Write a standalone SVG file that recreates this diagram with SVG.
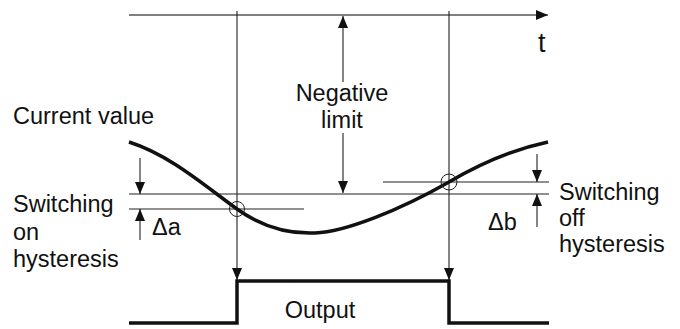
<svg xmlns="http://www.w3.org/2000/svg" width="680" height="329" viewBox="0 0 680 329">
<style>
text{font-family:"Liberation Sans",Arial,sans-serif;font-size:23.5px;fill:#111}
.thin{stroke:#222;stroke-width:1.1;fill:none}
.ax{stroke:#555;stroke-width:1.6;fill:none}
.thick{stroke:#111;stroke-width:3.5;fill:none;stroke-linejoin:miter}
.ring{stroke:#222;stroke-width:1;fill:none}
</style>
<defs>
<marker id="ah" viewBox="0 0 12 10" refX="12" refY="5" markerWidth="12" markerHeight="10" markerUnits="userSpaceOnUse" orient="auto">
<path d="M0,0 L12,5 L0,10 Z" fill="#111"/>
</marker>
</defs>
<g id="connectors">
<line class="ax" x1="129" y1="15" x2="548" y2="15" marker-end="url(#ah)"/>
<line class="thin" x1="237" y1="11" x2="237" y2="280" marker-end="url(#ah)"/>
<line class="thin" x1="449" y1="11" x2="449" y2="280" marker-end="url(#ah)"/>
<line class="thin" x1="343" y1="82" x2="343" y2="16" marker-end="url(#ah)"/>
<line class="thin" x1="343" y1="133" x2="343" y2="193" marker-end="url(#ah)"/>
<line class="thin" x1="129" y1="194" x2="549" y2="194"/>
<line class="thin" x1="129" y1="209" x2="304" y2="209"/>
<line class="thin" x1="383" y1="182" x2="549" y2="182"/>
<line class="thin" x1="140" y1="158" x2="140" y2="194" marker-end="url(#ah)"/>
<line class="thin" x1="140" y1="240" x2="140" y2="209" marker-end="url(#ah)"/>
<line class="thin" x1="537" y1="154" x2="537" y2="182" marker-end="url(#ah)"/>
<line class="thin" x1="537" y1="227" x2="537" y2="194" marker-end="url(#ah)"/>
</g>
<g id="curve">
<path class="thick" d="M129,142 C170,155 205,186 237,209 C262,227 290,234 315,233 C345,232 400,210 449,182 C478,165 510,150 548,142"/>
<circle class="ring" cx="237" cy="209" r="7.5"/>
<circle class="ring" cx="449" cy="182" r="8"/>
</g>
<g id="output">
<path class="thick" d="M129,323 H237 V281 H449 V323 H549"/>
<text x="320" y="318" text-anchor="middle">Output</text>
</g>
<g id="labels">
<text x="538" y="52" style="font-size:27px">t</text>
<text x="342" y="101" text-anchor="middle">Negative</text>
<text x="342" y="128" text-anchor="middle">limit</text>
<text x="13" y="124">Current value</text>
<text x="13" y="212">Switching</text>
<text x="13" y="240">on</text>
<text x="13" y="267">hysteresis</text>
<text x="152" y="235">Δa</text>
<text x="488" y="230">Δb</text>
<text x="559" y="200">Switching</text>
<text x="559" y="226">off</text>
<text x="559" y="252">hysteresis</text>
</g>
</svg>
